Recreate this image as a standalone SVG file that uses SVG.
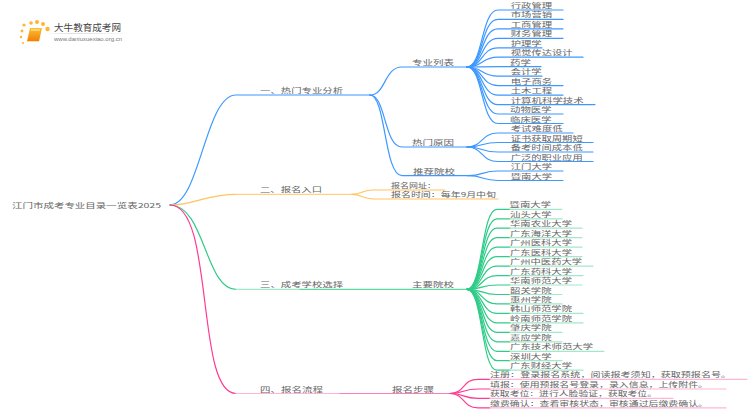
<svg xmlns="http://www.w3.org/2000/svg" width="750" height="410" viewBox="0 0 750 410">
<defs><style>
text{font-family:"Noto Sans CJK SC","Liberation Sans",sans-serif;font-size:6.500px;fill:#666}
.c{fill:none;stroke-width:1.2;stroke-linecap:round}
.b{stroke:#3d98ff}
.o{stroke:#ffc45e}.ol{stroke:#ffd184}
.g{stroke:#2fcc88}.gl{stroke:#a3e8c9}
.p{stroke:#ff3a92}.pl{stroke:#ffb6d6}
.logo{fill:#ffb52e}
</style>
<linearGradient id="book" x1="0" y1="0" x2="0" y2="1"><stop offset="0" stop-color="#ffc02e"/><stop offset="1" stop-color="#ef7d0a"/></linearGradient>
<linearGradient id="rule" x1="0" y1="0" x2="1" y2="0"><stop offset="0" stop-color="#ddd" stop-opacity="0"/><stop offset=".3" stop-color="#ddd"/><stop offset="1" stop-color="#ddd" stop-opacity="0"/></linearGradient>
</defs>
<rect width="750" height="410" fill="#fff"/>
<g id="logo">
<circle class="logo" cx="24" cy="25" r="1.6"/><circle class="logo" cx="31" cy="23" r="1.8"/><circle class="logo" cx="37" cy="22" r="2"/><circle class="logo" cx="43" cy="24" r="2"/><circle class="logo" cx="47.500" cy="29" r="2.200"/><circle class="logo" cx="22" cy="31" r="1.400"/><circle class="logo" cx="21" cy="37" r="1.200"/><circle class="logo" cx="23" cy="43" r="1"/>
<path d="M30 28H42L39 41.500H27Z" fill="url(#book)"/><path d="M31 30H40" stroke="#fff2c0" stroke-width="1"/>
<path d="M27.500 41.500H39" stroke="#ffe0a0" stroke-width="1"/>
<rect x="45" y="33" width="88" height="1" fill="url(#rule)"/>
<text x="54" y="31" textLength="67" lengthAdjust="spacingAndGlyphs" style="font-size:9.500px;fill:#444">大牛教育成考网</text>
<text x="54" y="41" textLength="68" lengthAdjust="spacingAndGlyphs" style="font-size:6px;fill:#777;font-family:'Liberation Sans',sans-serif">www.daniuxuexiao.org.cn</text>
</g>
<g id="connectors">
<path class="c b" d="M170 205C200 205 205 95 236 95H370"/>
<path class="c o" d="M170 205C195 205 205 194.300 236 194.300"/><path class="c ol" d="M236 194.300H352"/>
<path class="c g" d="M170 205C205 205 205 289.300 236 289.300"/><path class="c gl" d="M236 289.300H300"/><path class="c g" d="M300 289.300H467" style="stroke:#5fd8a4"/>
<path class="c p" d="M170 205C215 205 195 393.500 236 393.500"/><path class="c pl" d="M236 393.500H340"/><path class="c p" d="M340 393.500H450" style="stroke:#ff7db5"/>
<g class="c b">
<path d="M370 95C386 95 384 67 402 67H467"/><path d="M370 95C386 95 384 147 402 147H467"/><path d="M370 95C386 95 384 175.700 402 175.700H468"/>
<path d="M467 67C483 67 481 10 498 10H563"/><path d="M467 67C483 67 481 19.400 498 19.400H563"/><path d="M467 67C483 67 481 28.800 498 28.800H563"/><path d="M467 67C483 67 481 38.300 498 38.300H563"/><path d="M467 67C483 67 481 47.800 498 47.800H542"/><path d="M467 67C483 67 481 57.200 498 57.200H583"/><path d="M467 67C483 67 481 66.700 498 66.700H541"/><path d="M467 67C483 67 481 76.200 498 76.200H542"/><path d="M467 67C483 67 481 85.600 498 85.600H563"/><path d="M467 67C483 67 481 95.100 498 95.100H563"/><path d="M467 67C483 67 481 104.600 498 104.600H595"/><path d="M467 67C483 67 481 114 498 114H563"/><path d="M467 67C483 67 481 123.500 498 123.500H563"/>
<path d="M467 147C483 147 481 133 498 133H573"/><path d="M467 147C483 147 481 142.500 498 142.500H593"/><path d="M467 147C483 147 481 152 498 152H593"/><path d="M467 147C483 147 481 161.500 498 161.500H593"/>
<path d="M468 175.700C484 175.700 481 171 498 171H563"/><path d="M468 175.700C484 175.700 481 180.500 498 180.500H563"/>
</g>
<path class="c o" d="M352 194.300C362 194.300 362 190 373 190H445"/><path class="c o" d="M352 194.300C362 194.300 362 199 373 199H498"/>
<g class="c g">
<path d="M467 289.300C483 289.300 481 209.300 497 209.300H510"/><path d="M467 289.300C483 289.300 481 218.800 497 218.800H510"/><path d="M467 289.300C483 289.300 481 228.200 497 228.200H510"/><path d="M467 289.300C483 289.300 481 237.700 497 237.700H510"/><path d="M467 289.300C483 289.300 481 247.200 497 247.200H510"/><path d="M467 289.300C483 289.300 481 256.600 497 256.600H510"/><path d="M467 289.300C483 289.300 481 266.100 497 266.100H510"/><path d="M467 289.300C483 289.300 481 275.600 497 275.600H510"/><path d="M467 289.300C483 289.300 481 285 497 285H510"/><path d="M467 289.300C483 289.300 481 294.500 497 294.500H510"/><path d="M467 289.300C483 289.300 481 303.900 497 303.900H510"/><path d="M467 289.300C483 289.300 481 313.400 497 313.400H510"/><path d="M467 289.300C483 289.300 481 322.900 497 322.900H510"/><path d="M467 289.300C483 289.300 481 332.300 497 332.300H510"/><path d="M467 289.300C483 289.300 481 341.800 497 341.800H510"/><path d="M467 289.300C483 289.300 481 351.300 497 351.300H510"/><path d="M467 289.300C483 289.300 481 360.700 497 360.700H510"/><path d="M467 289.300C483 289.300 481 370.200 497 370.200H510"/>
</g>
<g class="c gl">
<path d="M510 209.300H562"/><path d="M510 218.800H562"/><path d="M510 228.200H582"/><path d="M510 237.700H582"/><path d="M510 247.200H582"/><path d="M510 256.600H582"/><path d="M510 266.100H593"/><path d="M510 275.600H583"/><path d="M510 285H582"/><path d="M510 294.500H562"/><path d="M510 303.900H562"/><path d="M510 313.400H583"/><path d="M510 322.900H583"/><path d="M510 332.300H562"/><path d="M510 341.800H562"/><path d="M510 351.300H604"/><path d="M510 360.700H562"/><path d="M510 370.200H583"/>
</g>
<g class="c p">
<path d="M450 393.500C465 393.500 462 379.300 478 379.300H490"/><path d="M450 393.500C465 393.500 462 389 478 389H490"/><path d="M450 393.500C465 393.500 462 398.400 478 398.400H490"/><path d="M450 393.500C465 393.500 462 407.800 478 407.800H490"/>
</g>
<g class="c pl">
<path d="M490 379.300H747"/><path d="M490 389H726"/><path d="M490 398.400H673"/><path d="M490 407.800H726"/>
</g>
</g>
<g id="root"><text x="12" y="207.500" textLength="149" lengthAdjust="spacingAndGlyphs">江门市成考专业目录一览表2025</text></g>
<g id="b1"><text x="260" y="93" textLength="83" lengthAdjust="spacingAndGlyphs">一、热门专业分析</text></g>
<g id="b2"><text x="260" y="192.300" textLength="62" lengthAdjust="spacingAndGlyphs">二、报名入口</text></g>
<g id="b3"><text x="260" y="287.300" textLength="83" lengthAdjust="spacingAndGlyphs">三、成考学校选择</text></g>
<g id="b4"><text x="260" y="391.500" textLength="63" lengthAdjust="spacingAndGlyphs">四、报名流程</text></g>
<g id="n-majors"><text x="412" y="65" textLength="42" lengthAdjust="spacingAndGlyphs">专业列表</text></g>
<g id="n-reasons"><text x="412" y="145" textLength="42" lengthAdjust="spacingAndGlyphs">热门原因</text></g>
<g id="n-recommend"><text x="413" y="173.700" textLength="42" lengthAdjust="spacingAndGlyphs">推荐院校</text></g>
<g id="n-main"><text x="412" y="287.300" textLength="42" lengthAdjust="spacingAndGlyphs">主要院校</text></g>
<g id="n-steps"><text x="392" y="391.500" textLength="42" lengthAdjust="spacingAndGlyphs">报名步骤</text></g>
<g id="m1"><text x="510.700" y="8" textLength="41.500" lengthAdjust="spacingAndGlyphs">行政管理</text></g>
<g id="m2"><text x="510.700" y="17.400" textLength="41.500" lengthAdjust="spacingAndGlyphs">市场营销</text></g>
<g id="m3"><text x="510.700" y="26.800" textLength="41.500" lengthAdjust="spacingAndGlyphs">工商管理</text></g>
<g id="m4"><text x="510.700" y="36.300" textLength="41.500" lengthAdjust="spacingAndGlyphs">财务管理</text></g>
<g id="m5"><text x="510.700" y="45.800" textLength="31" lengthAdjust="spacingAndGlyphs">护理学</text></g>
<g id="m6"><text x="510.700" y="55.200" textLength="62" lengthAdjust="spacingAndGlyphs">视觉传达设计</text></g>
<g id="m7"><text x="510" y="64.700" textLength="21" lengthAdjust="spacingAndGlyphs">药学</text></g>
<g id="m8"><text x="510.700" y="74.200" textLength="31" lengthAdjust="spacingAndGlyphs">会计学</text></g>
<g id="m9"><text x="510.700" y="83.600" textLength="41.500" lengthAdjust="spacingAndGlyphs">电子商务</text></g>
<g id="m10"><text x="510.700" y="93.100" textLength="41.500" lengthAdjust="spacingAndGlyphs">土木工程</text></g>
<g id="m11"><text x="510.700" y="102.600" textLength="73" lengthAdjust="spacingAndGlyphs">计算机科学技术</text></g>
<g id="m12"><text x="510" y="112" textLength="41.500" lengthAdjust="spacingAndGlyphs">动物医学</text></g>
<g id="m13"><text x="510" y="121.500" textLength="41.500" lengthAdjust="spacingAndGlyphs">临床医学</text></g>
<g id="r1"><text x="510.700" y="131" textLength="52" lengthAdjust="spacingAndGlyphs">考试难度低</text></g>
<g id="r2"><text x="510.700" y="140.500" textLength="72" lengthAdjust="spacingAndGlyphs">证书获取周期短</text></g>
<g id="r3"><text x="510.700" y="150" textLength="72" lengthAdjust="spacingAndGlyphs">备考时间成本低</text></g>
<g id="r4"><text x="510.700" y="159.500" textLength="72" lengthAdjust="spacingAndGlyphs">广泛的职业应用</text></g>
<g id="c1"><text x="510.700" y="169" textLength="41.500" lengthAdjust="spacingAndGlyphs">江门大学</text></g>
<g id="c2"><text x="510.700" y="178.500" textLength="41.500" lengthAdjust="spacingAndGlyphs">暨南大学</text></g>
<g id="e1"><text x="391" y="188" textLength="45" lengthAdjust="spacingAndGlyphs">报名网址：</text></g>
<g id="e2"><text x="391" y="197" textLength="105" lengthAdjust="spacingAndGlyphs">报名时间：每年9月中旬</text></g>
<g id="s1"><text x="509.500" y="207.300" textLength="41.500" lengthAdjust="spacingAndGlyphs">暨南大学</text></g>
<g id="s2"><text x="510" y="216.800" textLength="41.500" lengthAdjust="spacingAndGlyphs">汕头大学</text></g>
<g id="s3"><text x="510" y="226.200" textLength="62" lengthAdjust="spacingAndGlyphs">华南农业大学</text></g>
<g id="s4"><text x="510" y="235.700" textLength="62" lengthAdjust="spacingAndGlyphs">广东海洋大学</text></g>
<g id="s5"><text x="510" y="245.200" textLength="62" lengthAdjust="spacingAndGlyphs">广州医科大学</text></g>
<g id="s6"><text x="510" y="254.600" textLength="62" lengthAdjust="spacingAndGlyphs">广东医科大学</text></g>
<g id="s7"><text x="510" y="264.100" textLength="72" lengthAdjust="spacingAndGlyphs">广州中医药大学</text></g>
<g id="s8"><text x="510" y="273.600" textLength="62" lengthAdjust="spacingAndGlyphs">广东药科大学</text></g>
<g id="s9"><text x="510" y="283" textLength="62" lengthAdjust="spacingAndGlyphs">华南师范大学</text></g>
<g id="s10"><text x="510" y="292.500" textLength="41.500" lengthAdjust="spacingAndGlyphs">韶关学院</text></g>
<g id="s11"><text x="510" y="301.900" textLength="41.500" lengthAdjust="spacingAndGlyphs">惠州学院</text></g>
<g id="s12"><text x="510" y="311.400" textLength="62" lengthAdjust="spacingAndGlyphs">韩山师范学院</text></g>
<g id="s13"><text x="510" y="320.900" textLength="62" lengthAdjust="spacingAndGlyphs">岭南师范学院</text></g>
<g id="s14"><text x="510" y="330.300" textLength="41.500" lengthAdjust="spacingAndGlyphs">肇庆学院</text></g>
<g id="s15"><text x="510" y="339.800" textLength="41.500" lengthAdjust="spacingAndGlyphs">嘉应学院</text></g>
<g id="s16"><text x="510" y="349.300" textLength="83" lengthAdjust="spacingAndGlyphs">广东技术师范大学</text></g>
<g id="s17"><text x="510" y="358.700" textLength="41.500" lengthAdjust="spacingAndGlyphs">深圳大学</text></g>
<g id="s18"><text x="510" y="368.200" textLength="62" lengthAdjust="spacingAndGlyphs">广东财经大学</text></g>
<g id="p1"><text x="490" y="377.300" textLength="241" lengthAdjust="spacingAndGlyphs">注册：登录报名系统，阅读报考须知，获取预报名号。</text></g>
<g id="p2"><text x="490" y="387" textLength="218" lengthAdjust="spacingAndGlyphs">填报：使用预报名号登录，录入信息，上传附件。</text></g>
<g id="p3"><text x="490" y="396.400" textLength="167" lengthAdjust="spacingAndGlyphs">获取考位：进行人脸验证，获取考位。</text></g>
<g id="p4"><text x="490" y="405.800" textLength="218" lengthAdjust="spacingAndGlyphs">缴费确认：查看审核状态，审核通过后缴费确认。</text></g>
</svg>
